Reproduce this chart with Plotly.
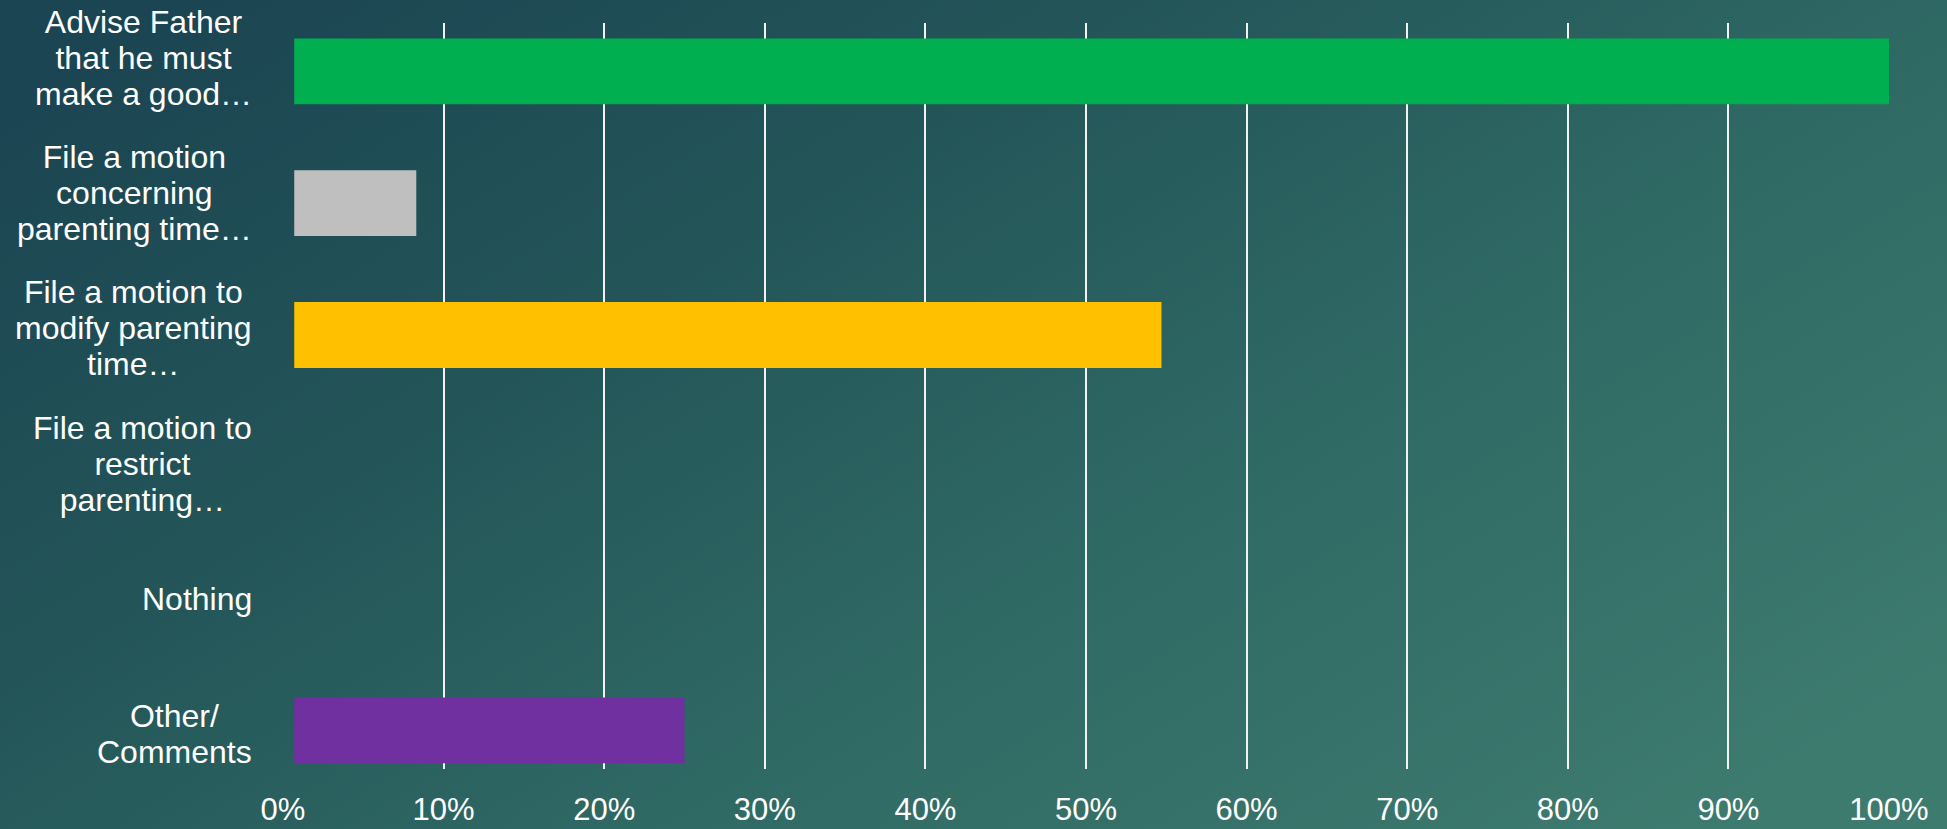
import base64
import plotly.graph_objects as go

# Survey responses: share of respondents choosing each option (%)
categories = [
    "Advise Father that he must make a good…",
    "File a motion concerning parenting time…",
    "File a motion to modify parenting time…",
    "File a motion to restrict parenting…",
    "Nothing",
    "Other/ Comments",
]
label_lines = [
    ["Advise Father", "that he must", "make a good…"],
    ["File a motion", "concerning", "parenting time…"],
    ["File a motion to", "modify parenting", "time…"],
    ["File a motion to", "restrict", "parenting…"],
    ["Nothing"],
    ["Other/", "Comments"],
]
values = [100, 8.3, 54.7, 0, 0, 25]
bar_colors = ["#00b050", "#bfbfbf", "#ffc000", "#7030a0", "#7030a0", "#7030a0"]
tick_values = list(range(0, 101, 10))
tick_labels = [f"{v}%" for v in tick_values]

W, H = 1947, 829
FONT = "Liberation Sans, Arial, sans-serif"
LABEL_SIZE = 32
LINE_PITCH = 36  # px between label lines
BAR_START = 0.7  # bars begin just right of the 0% line

# Teal slide background as an inline SVG gradient
svg = (
    f'<svg xmlns="http://www.w3.org/2000/svg" width="{W}" height="{H}" '
    f'viewBox="0 0 {W} {H}" preserveAspectRatio="none">'
    '<defs><linearGradient id="g" x1="0" y1="0.15" x2="1" y2="0.85">'
    '<stop offset="0" stop-color="#1b4552"/>'
    '<stop offset="0.35" stop-color="#245759"/>'
    '<stop offset="0.62" stop-color="#2f6964"/>'
    '<stop offset="1" stop-color="#3e7b6f"/>'
    '</linearGradient></defs>'
    f'<rect width="{W}" height="{H}" fill="url(#g)"/></svg>'
)
bg_uri = "data:image/svg+xml;base64," + base64.b64encode(svg.encode()).decode()

bar_x = [v - BAR_START if v > 0 else None for v in values]

fig = go.Figure()
fig.add_trace(
    go.Bar(
        y=categories,
        x=bar_x,
        base=BAR_START,
        orientation="h",
        marker=dict(color=bar_colors, line=dict(width=0)),
        width=0.5,
        xaxis="x",
        yaxis="y2",
        hoverinfo="skip",
        showlegend=False,
    )
)

x_domain = [283 / W, 1889 / W]
y_domain = [1 - 769 / H, 1 - 23 / H]

# Line pitch follows the annotation's base font size; glyphs are enlarged per line
annotations = [
    dict(
        text="<br>".join(
            f'<span style="font-size:{LABEL_SIZE}px">{ln}</span>' for ln in lines
        ),
        x=254 / W,
        xref="paper",
        xanchor="right",
        y=cat,
        yref="y",
        yanchor="middle",
        align="center",
        showarrow=False,
        font=dict(family=FONT, size=LINE_PITCH / 1.3, color="white"),
    )
    for cat, lines in zip(categories, label_lines)
]

fig.update_layout(
    width=W,
    height=H,
    autosize=False,
    margin=dict(l=0, r=0, t=0, b=0, pad=0),
    paper_bgcolor="#2a5f5f",
    plot_bgcolor="rgba(0,0,0,0)",
    images=[
        dict(
            source=bg_uri,
            xref="paper",
            yref="paper",
            x=0,
            y=1,
            sizex=1,
            sizey=1,
            xanchor="left",
            yanchor="top",
            sizing="stretch",
            layer="below",
        )
    ],
    xaxis=dict(
        domain=x_domain,
        range=[0, 100],
        tickvals=tick_values,
        ticktext=tick_labels,
        showgrid=True,
        gridcolor="#f2f2f2",
        gridwidth=2,
        zeroline=False,
        showline=False,
        ticks="outside",
        ticklen=13,
        tickcolor="rgba(0,0,0,0)",
        tickfont=dict(family=FONT, size=31, color="white"),
        automargin=False,
        fixedrange=True,
    ),
    yaxis=dict(
        domain=y_domain,
        type="category",
        categoryarray=categories,
        range=[5.259, -0.259],
        showticklabels=False,
        showgrid=False,
        zeroline=False,
        showline=False,
        automargin=False,
        fixedrange=True,
    ),
    yaxis2=dict(
        domain=y_domain,
        overlaying="y",
        type="category",
        categoryarray=categories,
        range=[5.293, -0.367],
        showticklabels=False,
        showgrid=False,
        zeroline=False,
        showline=False,
        automargin=False,
        fixedrange=True,
    ),
    annotations=annotations,
)

fig.write_html("out.html", config={"displayModeBar": False})
